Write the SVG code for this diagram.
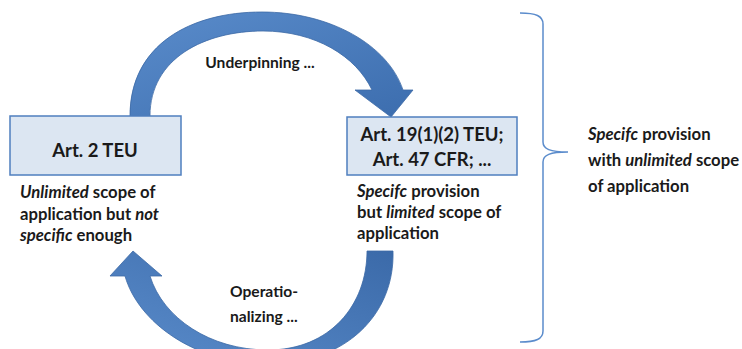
<svg xmlns="http://www.w3.org/2000/svg" width="742" height="349" viewBox="0 0 742 349">
<defs>
<linearGradient id="g1" x1="0" y1="0" x2="1" y2="1">
<stop offset="0" stop-color="#5a8ccb"/>
<stop offset="1" stop-color="#3c6dae"/>
</linearGradient>
<linearGradient id="g2" x1="1" y1="0" x2="0" y2="1">
<stop offset="0" stop-color="#3b6aa9"/>
<stop offset="1" stop-color="#5a8ccb"/>
</linearGradient>
<style>
.box{fill:#dce6f2;stroke:#4f7fbf;stroke-width:1.5}
.t{font-family:Lato,"Liberation Sans",sans-serif;font-weight:bold;fill:#1a1a1a}
.b{font-size:18.5px}
.d{font-size:16.7px}
.s{font-size:15.6px}
.arr{stroke:#3c6aa6;stroke-width:0.8}
.brace{fill:none;stroke:#5b8ccc;stroke-width:1.5}
</style>
</defs>
<g id="connectors">
<path id="underpinning" class="arr" fill="url(#g1)" d="M130,116 C130,45 190,12 262,12 C330,12 388,45 403,90 L413,90 L391,117 L355,90 L372,90 C356,56 315,31 263,31 C205,31 150,58 150,116 Z"/>
<path id="operationalizing" class="arr" fill="url(#g2)" d="M393,251 C395,315 345,364 268,364 C195,364 138,322 125,276 L110,276 L133,251 L162,276 L150,276 C163,318 210,350 268,350 C330,350 367,305 367,251 Z"/>
<text class="t s" x="260" y="68" text-anchor="middle">Underpinning ...</text>
<text class="t s" x="230" y="297">Operatio-</text>
<text class="t s" x="230" y="322">nalizing ...</text>
</g>
<g id="node-art2">
<rect class="box" x="10" y="116" width="171" height="59"/>
<text class="t b" x="95" y="157" text-anchor="middle">Art. 2 TEU</text>
<text class="t d" x="20" y="198"><tspan font-style="italic">Unlimited</tspan> scope of</text>
<text class="t d" x="20" y="220">application but <tspan font-style="italic">not</tspan></text>
<text class="t d" x="20" y="241"><tspan font-style="italic">specific</tspan> enough</text>
</g>
<g id="node-art19">
<rect class="box" x="347" y="117" width="170" height="58"/>
<text class="t b" x="432" y="141" text-anchor="middle">Art. 19(1)(2) TEU;</text>
<text class="t b" x="432" y="166" text-anchor="middle">Art. 47 CFR; ...</text>
<text class="t d" x="357" y="197"><tspan font-style="italic">Specifc</tspan> provision</text>
<text class="t d" x="357" y="218">but <tspan font-style="italic">limited</tspan> scope of</text>
<text class="t d" x="357" y="239">application</text>
</g>
<g id="brace-summary">
<path class="brace" d="M520,13 C536,13 543,16 543,24 L543,142 C543,149 550,152 568,152 C550,152 543,155 543,162 L543,331 C543,339 536,342 520,342"/>
<text class="t d" x="588" y="140"><tspan font-style="italic">Specifc</tspan> provision</text>
<text class="t d" x="588" y="166">with <tspan font-style="italic">unlimited</tspan> scope</text>
<text class="t d" x="588" y="192">of application</text>
</g>
</svg>
